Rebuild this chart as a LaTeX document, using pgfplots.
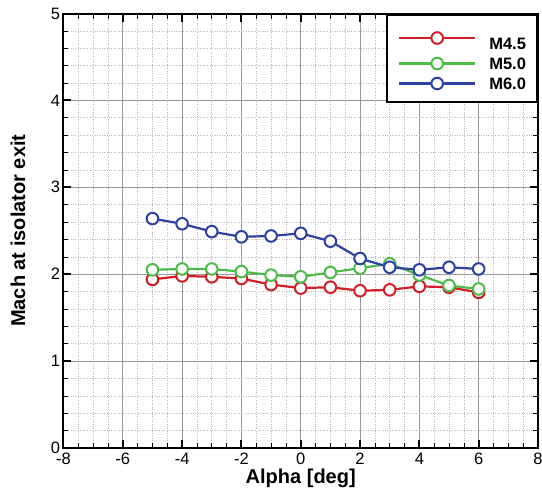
\documentclass[border=0pt]{standalone}
\usepackage{pgfplots}
\pgfplotsset{compat=1.18}
\usepackage{fontspec}
\setmainfont{Liberation Sans}
\definecolor{cred}{RGB}{210,30,38}
\definecolor{cgreen}{RGB}{76,187,71}
\definecolor{cblue}{RGB}{45,65,160}
\begin{document}
\begin{tikzpicture}
\begin{axis}[
  scale only axis, width=474.5pt, height=434.5pt,
  xmin=-8, xmax=8, ymin=0, ymax=5,
  xtick={-8,-6,...,8}, ytick={0,1,...,5},
  minor x tick num=3, minor y tick num=4,
  grid=both,
  major grid style={black!40, line width=0.8pt},
  minor grid style={black!28, dotted, line width=0.6pt},
  axis line style={line width=2pt},
  tick align=inside,
  major tick length=8pt, minor tick length=5pt,
  major tick style={black, line width=2pt},
  minor tick style={black, line width=0.6pt},
  /pgf/number format/assume math mode=true,
  ticklabel style={font=\fontsize{16.5}{16.5}\selectfont},
  xticklabel style={yshift=-1.5pt},
  xlabel={Alpha [deg]}, ylabel={Mach at isolator exit},
  label style={font=\bfseries\fontsize{20}{20}\selectfont},
  xlabel style={at={(axis description cs:0.5,-0.07)}, anchor=center},
  ylabel style={at={(axis description cs:-0.0959,0.5)}, anchor=center},
  legend style={at={(1,1)}, anchor=north east, draw=black, line width=2pt,
    fill=white, inner xsep=11pt, inner ysep=12pt, row sep=8pt, column sep=13pt,
    font=\bfseries\fontsize{16.5}{16.5}\selectfont,
    nodes={inner sep=0pt, text height=12pt, text depth=0pt},
    /tikz/row 1/.style={nodes={text height=23pt}}},
  legend cell align=left,
  legend image code/.code={\draw[mark repeat=2,mark phase=2,#1] plot coordinates {(0pt,0pt) (38pt,0pt) (76pt,0pt)};},
  every axis plot/.append style={line width=2.2pt, mark size=5.8pt},
]
\addplot[cred, mark=*, mark options={fill=white, draw=cred, line width=2pt}] coordinates {
(-5,1.94) (-4,1.98) (-3,1.97) (-2,1.95) (-1,1.88) (0,1.84) (1,1.85) (2,1.81) (3,1.82) (4,1.86) (5,1.85) (6,1.79)};
\addlegendentry{M4.5}
\addplot[cgreen, mark=*, mark options={fill=white, draw=cgreen, line width=2pt}] coordinates {
(-5,2.05) (-4,2.06) (-3,2.06) (-2,2.03) (-1,1.99) (0,1.97) (1,2.02) (2,2.07) (3,2.12) (4,1.99) (5,1.87) (6,1.83)};
\addlegendentry{M5.0}
\addplot[cblue, mark=*, mark options={fill=white, draw=cblue, line width=2pt}] coordinates {
(-5,2.64) (-4,2.58) (-3,2.49) (-2,2.43) (-1,2.44) (0,2.47) (1,2.38) (2,2.18) (3,2.08) (4,2.05) (5,2.08) (6,2.06)};
\addlegendentry{M6.0}
\end{axis}
\pgfresetboundingbox
\path (-63.5pt,-42pt) rectangle (478.5pt,448pt);
\end{tikzpicture}
\end{document}
